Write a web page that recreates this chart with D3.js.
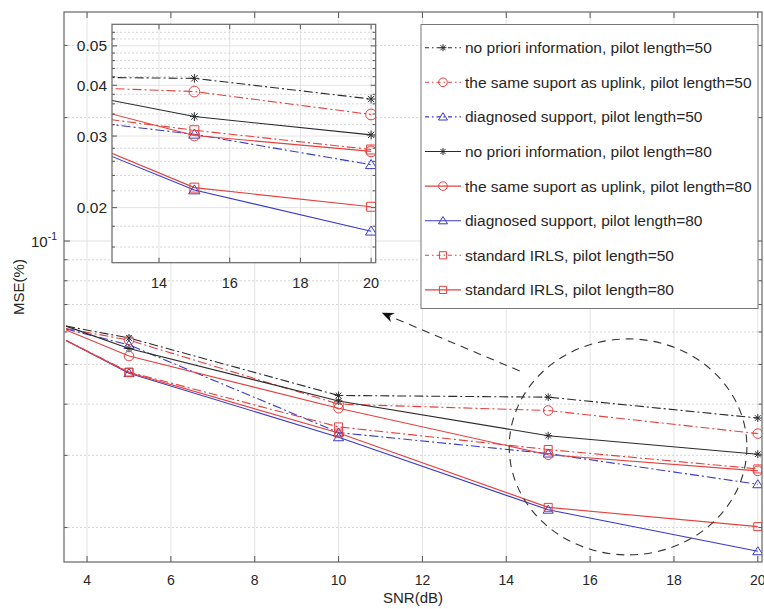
<!DOCTYPE html>
<html>
<head>
<meta charset="utf-8">
<script src="https://cdn.jsdelivr.net/npm/d3@7"></script>
<style>
body { margin: 0; background: #fff; }
svg { font-family: "Liberation Sans", Arial, sans-serif; }
</style>
</head>
<body>
<script>
// SNR samples (first one is where the curves enter the plot at the left edge)
var snr = [3.5, 5, 10, 15, 20];

// MSE values
var noPrior50     = [0.0620, 0.0580, 0.0420, 0.0416, 0.0370];
var sameSupport50 = [0.0612, 0.0573, 0.0400, 0.0386, 0.0339];
var diagnosed50   = [0.0610, 0.0558, 0.0341, 0.0303, 0.0255];
var noPrior80     = [0.0620, 0.0547, 0.0407, 0.0335, 0.0302];
var sameSupport80 = [0.0607, 0.0524, 0.0391, 0.0301, 0.0275];
var diagnosed80   = [0.0572, 0.0476, 0.0332, 0.0221, 0.0175];
var irls50        = [0.0572, 0.0479, 0.0352, 0.0310, 0.0278];
var irls80        = [0.0572, 0.0478, 0.0340, 0.0224, 0.0201];

var legendLabels = [
  "no priori information, pilot length=50",
  "the same suport as uplink, pilot length=50",
  "diagnosed support, pilot length=50",
  "no priori information, pilot length=80",
  "the same suport as uplink, pilot length=80",
  "diagnosed support, pilot length=80",
  "standard IRLS, pilot length=50",
  "standard IRLS, pilot length=80"
];

var xTicks = [4, 6, 8, 10, 12, 14, 16, 18, 20];
var yMinorTicks = [0.02, 0.03, 0.04, 0.05, 0.06, 0.07, 0.08, 0.09, 0.2, 0.3];
var yMajorTicks = [0.1];
var insetXTicks = [14, 16, 18, 20];
var insetYTicks = [0.02, 0.03, 0.04, 0.05];
var insetYMinor = [0.016, 0.018, 0.022, 0.024, 0.026, 0.028, 0.032, 0.034, 0.036, 0.038,
                   0.042, 0.044, 0.046, 0.048, 0.052, 0.054];

// zoom annotation (data units)
var circleSnr = [14.07, 19.74], circleMse = [0.0577, 0.01715];
var arrowFrom = [14.32, 0.0482], arrowTo = [11.03, 0.0668];

var BLACK = "#2a2a2a", RED = "#e4403e", BLUE = "#3a3ac8";
var DASHDOT = "9,3,2,3";

var series = [
  {label: legendLabels[0], values: noPrior50,     color: BLACK, dash: DASHDOT, marker: "star"},
  {label: legendLabels[1], values: sameSupport50, color: RED,   dash: DASHDOT, marker: "circle"},
  {label: legendLabels[2], values: diagnosed50,   color: BLUE,  dash: DASHDOT, marker: "tri"},
  {label: legendLabels[3], values: noPrior80,     color: BLACK, dash: null,    marker: "star"},
  {label: legendLabels[4], values: sameSupport80, color: RED,   dash: null,    marker: "circle"},
  {label: legendLabels[5], values: diagnosed80,   color: BLUE,  dash: null,    marker: "tri"},
  {label: legendLabels[6], values: irls50,        color: RED,   dash: DASHDOT, marker: "square"},
  {label: legendLabels[7], values: irls80,        color: RED,   dash: null,    marker: "square"}
];

var width = 764, height = 609;
var svg = d3.select("body").append("svg").attr("width", width).attr("height", height);
var defs = svg.append("defs");

var box = {left: 64, top: 12, right: 762, bottom: 562};
var x = d3.scaleLinear().domain([3.45, 20.1]).range([box.left, box.right]);
var y = d3.scaleLog().domain([0.01648, 0.362]).range([box.bottom, box.top]);

var ibox = {left: 112, top: 24.3, right: 375.7, bottom: 262.7};
var ix = d3.scaleLinear().domain([12.67, 20.13]).range([ibox.left, ibox.right]);
var iy = d3.scaleLog().domain([0.01464, 0.0565]).range([ibox.bottom, ibox.top]);

function markerPath(type, s) {
  if (type == "star") {
    var a = s * 0.72;
    return "M" + (-s) + ",0L" + s + ",0M0," + (-s) + "L0," + s +
           "M" + (-a) + "," + (-a) + "L" + a + "," + a + "M" + (-a) + "," + a + "L" + a + "," + (-a);
  }
  if (type == "tri") return "M0," + (-s) + "L" + (s * 1.1) + "," + (s * 0.75) + "L" + (-s * 1.1) + "," + (s * 0.75) + "Z";
  if (type == "square") return "M" + (-s) + "," + (-s) + "h" + (2 * s) + "v" + (2 * s) + "h" + (-2 * s) + "Z";
  return d3.arc()({innerRadius: 0, outerRadius: s, startAngle: 0, endAngle: 2 * Math.PI});
}
var markerSize = {star: 3.9, circle: 4.8, tri: 4.6, square: 4};

function drawPanel(g, sx, sy, b, clipId, opt) {
  defs.append("clipPath").attr("id", clipId).append("rect")
    .attr("x", b.left).attr("y", b.top).attr("width", b.right - b.left).attr("height", b.bottom - b.top);

  g.append("rect").attr("x", b.left).attr("y", b.top)
    .attr("width", b.right - b.left).attr("height", b.bottom - b.top).attr("fill", "#fff");

  // grid
  var grid = g.append("g");
  grid.selectAll(".vg").data(opt.xTicks).enter().append("line")
    .attr("x1", sx).attr("x2", sx).attr("y1", b.top).attr("y2", b.bottom)
    .attr("stroke", "#e3e3e3").attr("stroke-width", 1);
  grid.selectAll(".hmin").data(opt.yMinor).enter().append("line")
    .attr("x1", b.left).attr("x2", b.right).attr("y1", sy).attr("y2", sy)
    .attr("stroke", "#d6d6d6").attr("stroke-width", 1).attr("stroke-dasharray", "2,2");
  grid.selectAll(".hmaj").data(opt.yMajor).enter().append("line")
    .attr("x1", b.left).attr("x2", b.right).attr("y1", sy).attr("y2", sy)
    .attr("stroke", "#e3e3e3").attr("stroke-width", 1);

  // curves
  var plot = g.append("g").attr("clip-path", "url(#" + clipId + ")");
  var line = d3.line().x(function(d, i) { return sx(snr[i]); }).y(function(d) { return sy(d); });
  series.forEach(function(s) {
    plot.append("path").attr("d", line(s.values)).attr("fill", "none")
      .attr("stroke", s.color).attr("stroke-width", 1.1)
      .attr("stroke-dasharray", s.dash);
  });
  series.forEach(function(s) {
    plot.selectAll(null).data(s.values.slice(1)).enter().append("path")
      .attr("transform", function(d, i) { return "translate(" + sx(snr[i + 1]) + "," + sy(d) + ")"; })
      .attr("d", markerPath(s.marker, markerSize[s.marker] * opt.mscale))
      .attr("fill", "none").attr("stroke", s.color).attr("stroke-width", 1);
  });

  // ticks pointing inward on all four sides
  var tk = g.append("g").attr("stroke", "#555").attr("stroke-width", 1);
  opt.xTicks.forEach(function(v) {
    tk.append("line").attr("x1", sx(v)).attr("x2", sx(v)).attr("y1", b.bottom).attr("y2", b.bottom - opt.tick);
    tk.append("line").attr("x1", sx(v)).attr("x2", sx(v)).attr("y1", b.top).attr("y2", b.top + opt.tick);
  });
  opt.yMajor.concat(opt.yMinor).forEach(function(v) {
    var len = opt.yMajor.indexOf(v) >= 0 ? opt.tick : opt.tick * 0.6;
    tk.append("line").attr("x1", b.left).attr("x2", b.left + len).attr("y1", sy(v)).attr("y2", sy(v));
    tk.append("line").attr("x1", b.right).attr("x2", b.right - len).attr("y1", sy(v)).attr("y2", sy(v));
  });

  g.append("rect").attr("x", b.left).attr("y", b.top)
    .attr("width", b.right - b.left).attr("height", b.bottom - b.top)
    .attr("fill", "none").attr("stroke", "#666").attr("stroke-width", 1.2);

  // x tick labels
  g.selectAll(".xl").data(opt.xTicks).enter().append("text")
    .attr("x", sx).attr("y", b.bottom + opt.xLabelDy)
    .attr("text-anchor", "middle").attr("font-size", opt.fontSize).attr("fill", "#262626")
    .text(function(d) { return d; });
}

// main axes
var main = svg.append("g");
drawPanel(main, x, y, box, "clipMain",
  {xTicks: xTicks, yMinor: yMinorTicks, yMajor: yMajorTicks, tick: 6, xLabelDy: 23, fontSize: 14, mscale: 1});

// 10^-1 label
var lab = main.append("text").attr("x", 57).attr("y", y(0.1) + 6)
  .attr("text-anchor", "end").attr("font-size", 15).attr("fill", "#262626");
lab.append("tspan").text("10");
lab.append("tspan").attr("dy", -7).attr("font-size", 10.5).text("-1");

main.append("text").attr("x", (box.left + box.right) / 2).attr("y", 603)
  .attr("text-anchor", "middle").attr("font-size", 15).attr("fill", "#262626").text("SNR(dB)");
main.append("text")
  .attr("transform", "translate(24," + ((box.top + box.bottom) / 2) + ") rotate(-90)")
  .attr("text-anchor", "middle").attr("font-size", 15).attr("fill", "#262626").text("MSE(%)");

// zoom circle and arrow
var cx = (x(circleSnr[0]) + x(circleSnr[1])) / 2, cy = (y(circleMse[0]) + y(circleMse[1])) / 2;
main.append("ellipse").attr("cx", cx).attr("cy", cy)
  .attr("rx", (x(circleSnr[1]) - x(circleSnr[0])) / 2)
  .attr("ry", (y(circleMse[1]) - y(circleMse[0])) / 2)
  .attr("fill", "none").attr("stroke", "#333").attr("stroke-width", 1.1).attr("stroke-dasharray", "8,6");

var ax0 = x(arrowFrom[0]), ay0 = y(arrowFrom[1]), ax1 = x(arrowTo[0]), ay1 = y(arrowTo[1]);
var ang = Math.atan2(ay1 - ay0, ax1 - ax0);
var headLen = 12, headW = 5;
var bx = ax1 - headLen * Math.cos(ang), by = ay1 - headLen * Math.sin(ang);
main.append("line").attr("x1", ax0).attr("y1", ay0).attr("x2", bx + 3 * Math.cos(ang)).attr("y2", by + 3 * Math.sin(ang))
  .attr("stroke", "#333").attr("stroke-width", 1.1).attr("stroke-dasharray", "8,6");
var nx = -Math.sin(ang), ny = Math.cos(ang);
var backx = ax1 - headLen * 0.7 * Math.cos(ang), backy = ay1 - headLen * 0.7 * Math.sin(ang);
main.append("path")
  .attr("d", "M" + ax1 + "," + ay1 +
    "L" + (bx + nx * headW) + "," + (by + ny * headW) +
    "L" + backx + "," + backy +
    "L" + (bx - nx * headW) + "," + (by - ny * headW) + "Z")
  .attr("fill", "#111");

// inset
var inset = svg.append("g");
drawPanel(inset, ix, iy, ibox, "clipInset",
  {xTicks: insetXTicks, yMinor: insetYMinor, yMajor: insetYTicks, tick: 5, xLabelDy: 25, fontSize: 14.5, mscale: 1.12});
inset.selectAll(".yl").data(insetYTicks).enter().append("text")
  .attr("x", ibox.left - 5).attr("y", function(d) { return iy(d) + 5.5; })
  .attr("text-anchor", "end").attr("font-size", 15.5).attr("fill", "#262626")
  .text(function(d) { return d3.format(".2f")(d); });

// legend
var leg = svg.append("g");
leg.append("rect").attr("x", 421).attr("y", 24.5).attr("width", 337).attr("height", 284)
  .attr("fill", "#fff").attr("stroke", "#777").attr("stroke-width", 1);
series.forEach(function(s, i) {
  var ly = 47.7 + i * 34.6;
  leg.append("line").attr("x1", 425).attr("x2", 461).attr("y1", ly).attr("y2", ly)
    .attr("stroke", s.color).attr("stroke-width", 1.1)
    .attr("stroke-dasharray", s.dash ? "4,3,1.5,3" : null);
  leg.append("path").attr("transform", "translate(443," + ly + ")")
    .attr("d", markerPath(s.marker, markerSize[s.marker] * 0.9))
    .attr("fill", "none").attr("stroke", s.color).attr("stroke-width", 1);
  leg.append("text").attr("x", 465).attr("y", ly + 5.5)
    .attr("font-size", 15.5).attr("fill", "#262626").text(s.label);
});
</script>
</body>
</html>
